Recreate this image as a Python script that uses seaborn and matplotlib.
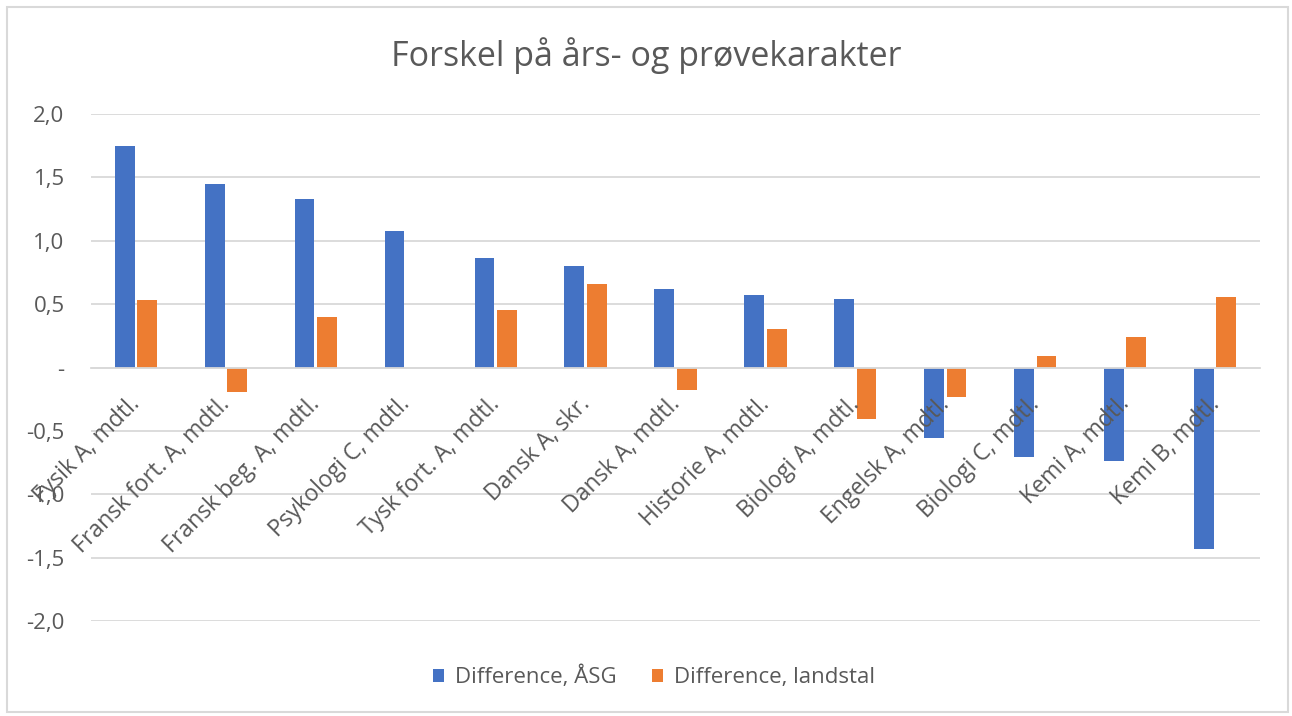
import matplotlib
matplotlib.use("Agg")
import matplotlib.pyplot as plt
import seaborn as sns
import pandas as pd
from matplotlib.ticker import FixedLocator, FuncFormatter
from matplotlib.patches import Rectangle, Patch
from matplotlib.transforms import ScaledTranslation

categories = ["Fysik A, mdtl.", "Fransk fort. A, mdtl.", "Fransk beg. A, mdtl.",
              "Psykologi C, mdtl.", "Tysk fort. A, mdtl.", "Dansk A, skr.",
              "Dansk A, mdtl.", "Historie A, mdtl.", "Biologi A, mdtl.",
              "Engelsk A, mdtl.", "Biologi C, mdtl.", "Kemi A, mdtl.", "Kemi B, mdtl."]
diff_asg = [1.75, 1.45, 1.33, 1.08, 0.86, 0.80, 0.62, 0.57, 0.54, -0.56, -0.71, -0.74, -1.43]
diff_land = [0.53, -0.19, 0.40, 0.0, 0.45, 0.66, -0.18, 0.30, -0.41, -0.23, 0.09, 0.24, 0.56]
series_names = ["Difference, ÅSG", "Difference, landstal"]
yticks = [-2.0, -1.5, -1.0, -0.5, 0.0, 0.5, 1.0, 1.5, 2.0]

BLUE = "#4472C4"
ORANGE = "#ED7D31"
TEXT = "#595959"
GRID = "#D9D9D9"

sns.set_style("white")
plt.rcParams["font.family"] = ["Open Sans", "DejaVu Sans"]

df = pd.DataFrame({
    "Fag": categories * 2,
    "Serie": [series_names[0]] * len(categories) + [series_names[1]] * len(categories),
    "Værdi": diff_asg + diff_land,
})

fig = plt.figure(figsize=(12.92, 7.16), dpi=100)
ax = fig.add_axes([91 / 1292, 1 - 621 / 716, (1260 - 91) / 1292, (621 - 114) / 716])

sns.barplot(data=df, x="Fag", y="Værdi", hue="Serie", order=categories,
            hue_order=series_names, palette={series_names[0]: BLUE, series_names[1]: ORANGE},
            width=0.5, gap=0.12, linewidth=0, saturation=1, errorbar=None, ax=ax,
            legend=False, zorder=2)

ax.set_ylim(-2.0, 2.0)
ax.set_xlim(-0.5, len(categories) - 0.5)
ax.yaxis.set_major_locator(FixedLocator(yticks))

def fmt(v, pos):
    if abs(v) < 1e-9:
        return "-"
    return f"{v:.1f}".replace(".", ",")

ax.yaxis.set_major_formatter(FuncFormatter(fmt))
ax.grid(axis="y", color=GRID, linewidth=1.3, zorder=0)
ax.set_axisbelow(True)
for s in ["top", "right", "left"]:
    ax.spines[s].set_visible(False)
ax.spines["bottom"].set_position(("data", 0))
ax.spines["bottom"].set_color(GRID)
ax.spines["bottom"].set_linewidth(1.3)
ax.spines["bottom"].set_zorder(2.2)
ax.xaxis.set_zorder(3)

ax.tick_params(axis="y", length=0, pad=19, labelsize=16, labelcolor=TEXT)
ax.tick_params(axis="x", length=0, pad=27, labelsize=16.6, labelcolor=TEXT)
shift = ScaledTranslation(5 / 100, 0, fig.dpi_scale_trans)
for tick in ax.xaxis.get_major_ticks():
    lab = tick.label1
    lab.set_rotation(45)
    lab.set_ha("right")
    lab.set_va("baseline")
    lab.set_rotation_mode("anchor")
    lab.set_transform(lab.get_transform() + shift)
ax.set_xlabel("")
ax.set_ylabel("")

fig.text(0.5, 1 - 56 / 716, "Forskel på års- og prøvekarakter", ha="center", va="center",
         fontsize=24.5, color=TEXT)

handles = [Patch(facecolor=BLUE, edgecolor="none"), Patch(facecolor=ORANGE, edgecolor="none")]
fig.legend(handles, series_names, loc="center", bbox_to_anchor=(654 / 1292, 1 - 677 / 716),
           ncol=2, frameon=False, fontsize=16, labelcolor=TEXT, handlelength=0.5,
           handleheight=0.5, handletextpad=0.5, columnspacing=1.6)

fig.patches.append(Rectangle((7 / 1292, 4 / 716), (1288 - 7) / 1292, (709 - 4) / 716,
                             transform=fig.transFigure, fill=False, edgecolor=GRID,
                             linewidth=1.5))

fig.savefig("out.png", dpi=100)
